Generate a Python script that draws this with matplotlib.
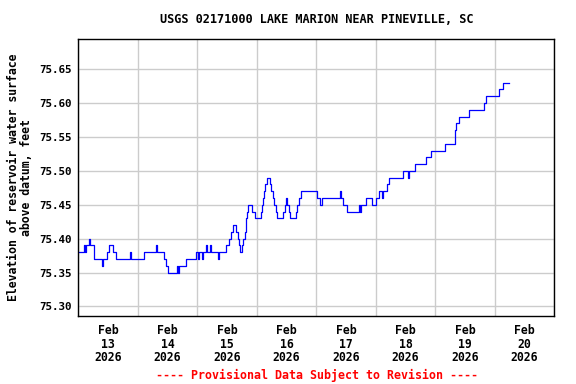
import numpy as np
import matplotlib
matplotlib.use('Agg')
import matplotlib.pyplot as plt
import matplotlib.dates as mdates

# hours since 2026-02-13 00:00 and lake elevation (feet), step changes
hours = [0.0, 2.5, 2.8, 3.3, 4.5, 4.9, 6.5, 9.4, 9.8, 11.4, 12.2, 14.1, 15.1,
         20.8, 21.1, 26.7, 31.4, 31.7, 34.4, 35.2, 36.3, 40.0, 40.4, 40.8,
         43.5, 47.4, 48.1, 48.7, 50.1, 50.5, 51.5, 51.9, 53.1, 53.5, 56.2,
         56.8, 59.4, 60.6, 61.8, 62.6, 63.8, 64.4, 64.8, 65.4, 66.2, 66.6,
         67.1, 67.5, 67.8, 68.0, 68.4, 70.2, 71.1, 73.8, 74.2, 74.4, 74.8,
         75.4, 76.0, 77.4, 77.8, 78.5, 78.9, 79.6, 80.2, 82.5, 83.2, 83.9,
         84.3, 84.9, 85.6, 87.9, 88.3, 89.2, 89.9, 96.2, 97.7, 98.4, 105.4,
         106.1, 106.7, 108.3, 113.4, 113.7, 114.0, 116.1, 118.4, 120.2,
         121.2, 122.6, 123.1, 124.6, 125.5, 130.9, 132.9, 133.6, 136.0,
         140.1, 142.4, 148.1, 151.8, 152.0, 152.4, 153.5, 157.8, 163.5,
         164.5, 169.6, 171.2, 173.9]
elev = [75.38, 75.39, 75.38, 75.39, 75.40, 75.39, 75.37, 75.36, 75.37, 75.38,
        75.39, 75.38, 75.37, 75.38, 75.37, 75.38, 75.39, 75.38, 75.37, 75.36,
        75.35, 75.36, 75.35, 75.36, 75.37, 75.38, 75.37, 75.38, 75.37, 75.38,
        75.39, 75.38, 75.39, 75.38, 75.37, 75.38, 75.39, 75.40, 75.41, 75.42,
        75.41, 75.40, 75.39, 75.38, 75.39, 75.40, 75.41, 75.42, 75.43, 75.44,
        75.45, 75.44, 75.43, 75.44, 75.45, 75.46, 75.47, 75.48, 75.49, 75.48,
        75.47, 75.46, 75.45, 75.44, 75.43, 75.44, 75.45, 75.46, 75.45, 75.44,
        75.43, 75.44, 75.45, 75.46, 75.47, 75.46, 75.45, 75.46, 75.47, 75.46,
        75.45, 75.44, 75.45, 75.44, 75.45, 75.46, 75.45, 75.46, 75.47, 75.46,
        75.47, 75.48, 75.49, 75.50, 75.49, 75.50, 75.51, 75.52, 75.53, 75.54,
        75.55, 75.56, 75.57, 75.58, 75.59, 75.60, 75.61, 75.62, 75.63, 75.63]

days = ['13', '14', '15', '16', '17', '18', '19', '20']
yticks = [75.30, 75.35, 75.40, 75.45, 75.50, 75.55, 75.60, 75.65]

start = np.datetime64('2026-02-13T00:00')
t = start + (np.array(hours) * 60).round().astype('timedelta64[m]')

mono = 'DejaVu Sans Mono'
fig = plt.figure(figsize=(5.76, 3.84), dpi=100)
ax = fig.add_axes([0.1359, 0.1771, 0.8264, 0.7206])

ax.plot(t, elev, drawstyle='steps-post', color='#0000ff', lw=0.9)

ax.set_xlim(start, start + np.timedelta64(8, 'D'))
ax.set_ylim(75.286, 75.694)

# gridlines at midnight, labels at noon
ax.xaxis.set_minor_locator(mdates.DayLocator())
ax.set_xticks(start + np.arange(8) * np.timedelta64(1, 'D') + np.timedelta64(12, 'h'))
ax.set_xticklabels(['Feb\n%s\n2026' % d for d in days], fontfamily=mono,
                   fontweight='bold', fontsize=8.3, linespacing=1.05)
ax.set_yticks(yticks)
ax.set_yticklabels(['%.2f' % v for v in yticks], fontfamily=mono,
                   fontweight='bold', fontsize=7.8)
ax.tick_params(which='both', length=0)
ax.tick_params(axis='x', pad=6)
ax.tick_params(axis='y', pad=4.5)
ax.grid(which='minor', axis='x', color='#cccccc', lw=1)
ax.grid(which='major', axis='y', color='#cccccc', lw=1)
ax.grid(which='major', axis='x', visible=False)
ax.set_axisbelow(True)
for s in ax.spines.values():
    s.set_linewidth(1)

ax.set_ylabel('Elevation of reservoir water surface\nabove datum, feet',
              fontfamily=mono, fontweight='bold', fontsize=8.3,
              linespacing=1.0, labelpad=5)
fig.text(0.55, 0.95, 'USGS 02171000 LAKE MARION NEAR PINEVILLE, SC',
         ha='center', va='center', fontfamily=mono, fontweight='bold',
         fontsize=8.6)
fig.text(0.55, 0.023, '---- Provisional Data Subject to Revision ----',
         ha='center', va='center', fontfamily=mono, fontweight='bold',
         fontsize=8.4, color='red')

plt.savefig('out.png', dpi=100)
